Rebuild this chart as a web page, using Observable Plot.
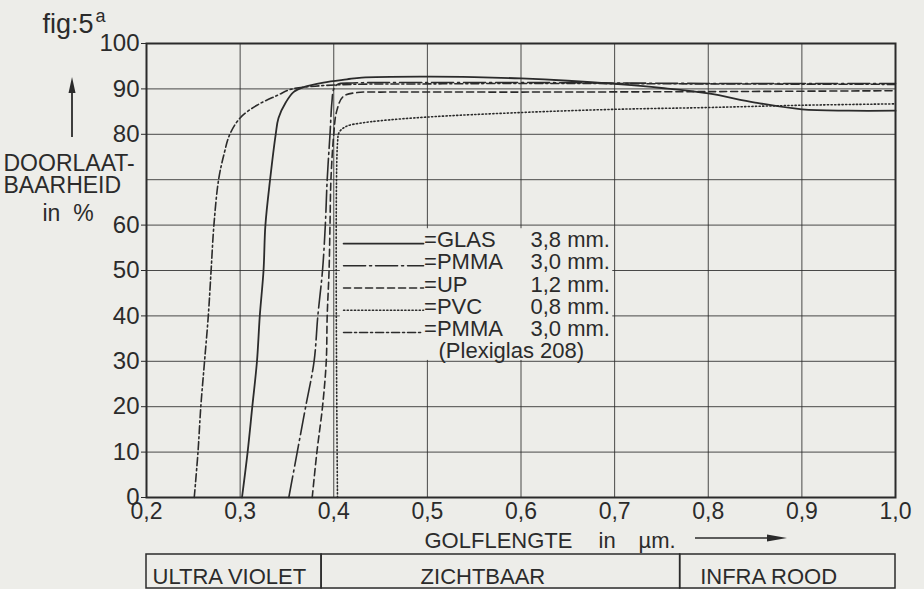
<!DOCTYPE html>
<html><head><meta charset="utf-8">
<script src="https://cdn.jsdelivr.net/npm/d3@7"></script>
<script src="https://cdn.jsdelivr.net/npm/@observablehq/plot@0.6"></script>
<style>
html,body{margin:0;padding:0;background:#ededE9;}
#chart{width:924px;height:589px;overflow:hidden;}
</style></head><body><div id="chart"></div>
<script>
// ---------- data ----------
const xTicks = [0.2, 0.3, 0.4, 0.5, 0.6, 0.7, 0.8, 0.9, 1.0];
const yTicks = [0, 10, 20, 30, 40, 50, 60, 70, 80, 90, 100];
const yLabelTicks = [0, 10, 20, 30, 40, 50, 60, 80, 90, 100]; // 70 is covered by the axis title

// GLAS 3,8 mm (solid)
const glasWl = [0.302,0.308,0.313,0.318,0.321,0.325,0.327,0.332,0.338,0.341,0.349,0.357,0.368,0.389,0.414,0.43,0.5,0.55,0.6,0.65,0.7,0.75,0.8,0.85,0.9,0.95,1.0];
const glasT  = [0,10,20,30,40,50,60,70,80,83.6,87.1,89.3,90.4,91.4,92.1,92.5,92.7,92.6,92.3,91.8,91.1,90.2,89.0,87.0,85.5,85.2,85.2];

// PMMA 3,0 mm (long dash - dot)
const pmmaWl = [0.352,0.361,0.370,0.379,0.383,0.388,0.391,0.393,0.396,0.398,0.400,0.404,0.42,0.5,0.6,0.7,0.8,0.9,1.0];
const pmmaT  = [0,10,20,30,40,50,60,70,80,87,90,91.0,91.3,91.4,91.4,91.3,91.2,91.2,91.2];

// UP 1,2 mm (dashed)
const upWl = [0.377,0.382,0.388,0.392,0.393,0.395,0.396,0.397,0.400,0.403,0.41,0.425,0.45,0.6,0.8,1.0];
const upT  = [0,10,20,30,40,50,60,70,80,85,88.3,89.2,89.3,89.3,89.4,89.6];

// PVC 0,8 mm (dotted)
const pvcWl = [0.404,0.404,0.406,0.414,0.43,0.45,0.5,0.6,0.7,0.8,0.9,1.0];
const pvcT  = [0,78,80.5,81.8,82.5,83.0,83.8,84.8,85.5,85.9,86.4,86.7];

// PMMA 3,0 mm Plexiglas 208 (short dash - dot)
const plexWl = [0.251,0.255,0.258,0.262,0.266,0.269,0.272,0.277,0.283,0.289,0.300,0.318,0.340,0.354,0.38,0.42,0.5,0.6,0.8,1.0];
const plexT  = [0,10,20,30,40,50,60,70,75.8,80,83.6,86.4,88.6,89.9,90.6,91.0,91.1,91.2,91.1,91.0];

const legendNames = ["GLAS", "PMMA", "UP", "PVC", "PMMA"];
const legendThickness = ["3,8 mm.", "3,0 mm.", "1,2 mm.", "0,8 mm.", "3,0 mm."];
const legendNote = "(Plexiglas 208)";

const bandEdges = [0.2, 0.387, 0.77, 1.0];
const bandNames = ["ULTRA VIOLET", "ZICHTBAAR", "INFRA ROOD"];

// ---------- styles / layout ----------
const ink = "#2b2b2b";
const paper = "#ededE9";
const font = "'Liberation Sans', Arial, sans-serif";
const dashes = [null, "22,4,2,4", "7,4", "1.2,2.4", "8,3,2,3"];
const widths = [1.8, 1.6, 1.6, 1.6, 1.6];
const seriesData = [[glasWl, glasT], [pmmaWl, pmmaT], [upWl, upT], [pvcWl, pvcT], [plexWl, plexT]]
  .map(([w, t]) => w.map((x, i) => ({x, y: t[i]})));

// legend sits on the grid, so it is positioned in data units
const L = {x1: 0.4105, x2: 0.4959, eqX: 0.4965, thickX: 0.6101, noteX: 0.5119,
           y0: 55.15, step: 4.89, lift: 0.77,
           box: {x1: 0.407, x2: 0.698, y1: 30.2, y2: 59.2}};
const legendRows = legendNames.map((n, i) => ({
  i, name: "=" + n, thick: legendThickness[i], y: L.y0 - i * L.step
}));

const fmt = d => d.toFixed(1).replace(".", ",");
const label = (t, o) => Plot.text([t], {text: d => d, textAnchor: "start", lineAnchor: "bottom", fill: ink, fontSize: 22, ...o});

const marks = [
  Plot.gridX(xTicks, {stroke: ink, strokeOpacity: 0.85, strokeWidth: 1}),
  Plot.gridY(yTicks, {stroke: ink, strokeOpacity: 0.85, strokeWidth: 1}),
  Plot.rect([L.box], {x1: "x1", x2: "x2", y1: "y1", y2: "y2", fill: paper}),
  Plot.frame({stroke: ink, strokeWidth: 2}),
  Plot.axisY({ticks: yLabelTicks, tickSize: 5, tickPadding: 2, fontSize: 24, label: null, stroke: ink, color: ink}),
  Plot.axisX({ticks: xTicks, tickFormat: fmt, tickSize: 0, tickPadding: 5, fontSize: 23, label: null, color: ink}),
  ...seriesData.map((d, i) => Plot.line(d, {x: "x", y: "y", stroke: ink, strokeWidth: widths[i],
      strokeDasharray: dashes[i], curve: "catmull-rom"})),
  // legend
  ...legendRows.map(r => Plot.line([{x: L.x1, y: r.y + L.lift}, {x: L.x2, y: r.y + L.lift}],
      {x: "x", y: "y", stroke: ink, strokeWidth: widths[r.i], strokeDasharray: dashes[r.i]})),
  Plot.text(legendRows, {x: L.eqX, y: "y", text: "name", textAnchor: "start", lineAnchor: "bottom", fontSize: 22, fill: ink}),
  Plot.text(legendRows, {x: L.thickX, y: "y", text: "thick", textAnchor: "start", lineAnchor: "bottom", fontSize: 22, fill: ink}),
  Plot.text([legendNote], {x: L.noteX, y: L.y0 - 5 * L.step, text: d => d, textAnchor: "start", lineAnchor: "bottom", fontSize: 22, fill: ink}),
  // y label block
  label("fig:5", {frameAnchor: "top-left", dx: -104, dy: -11, fontSize: 27}),
  label("a", {frameAnchor: "top-left", dx: -51, dy: -22, fontSize: 18}),
  label("DOORLAAT-", {frameAnchor: "top-left", dx: -143, dy: 127, fontSize: 23}),
  label("BAARHEID", {frameAnchor: "top-left", dx: -143, dy: 149, fontSize: 23}),
  label("in  %", {frameAnchor: "top-left", dx: -104, dy: 177, fontSize: 23}),
  // x label
  label("GOLFLENGTE", {frameAnchor: "bottom-left", dx: 278, dy: 50}),
  label("in", {frameAnchor: "bottom-left", dx: 452, dy: 50}),
  label("µm.", {frameAnchor: "bottom-left", dx: 492, dy: 50}),
  // spectral band
  Plot.rect(bandEdges.slice(0, -1).map((e, i) => ({x1: e, x2: bandEdges[i + 1]})),
      {x1: "x1", x2: "x2", insetTop: 511, insetBottom: -91, fill: "none", stroke: ink, strokeWidth: 1.5}),
  ...bandNames.map((n, i) => Plot.text([n], {x: bandEdges[i], frameAnchor: "bottom", dx: [6, 99, 20][i], dy: 86,
      text: d => d, textAnchor: "start", lineAnchor: "bottom", fontSize: 22, fill: ink})),
  // arrows (decoration)
  (index, scales, values, dims) => {
    const g = d3.create("svg:g").attr("fill", ink).attr("stroke", ink);
    const ax = dims.marginLeft - 74, top = dims.marginTop + 34;
    g.append("line").attr("x1", ax).attr("x2", ax).attr("y1", top + 60).attr("y2", top + 12).attr("stroke-width", 1.8);
    g.append("path").attr("stroke", "none").attr("d", `M${ax},${top} L${ax - 3.5},${top + 16} L${ax + 3.5},${top + 16} Z`);
    const ay = dims.height - dims.marginBottom + 41, x0 = dims.marginLeft + 549, x1 = dims.marginLeft + 641;
    g.append("line").attr("x1", x0).attr("x2", x1 - 12).attr("y1", ay).attr("y2", ay).attr("stroke-width", 1.6);
    g.append("path").attr("stroke", "none").attr("d", `M${x1},${ay} L${x1 - 20},${ay - 3.5} L${x1 - 20},${ay + 3.5} Z`);
    return g.node();
  }
];

const chart = Plot.plot({
  width: 924, height: 589,
  marginLeft: 146, marginRight: 29, marginTop: 43, marginBottom: 92,
  x: {domain: [0.2, 1.0], axis: null},
  y: {domain: [0, 100], axis: null},
  style: {fontFamily: font, background: "transparent", color: ink, overflow: "visible"},
  marks
});
document.getElementById("chart").appendChild(chart);
</script></body></html>
